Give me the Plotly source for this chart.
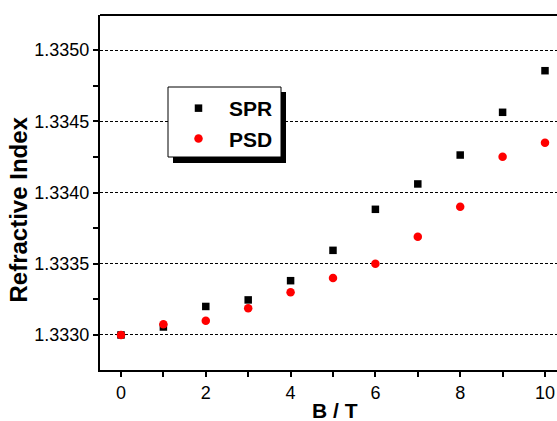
import plotly.graph_objects as go

B = [0, 1, 2, 3, 4, 5, 6, 7, 8, 9, 10]
spr = [1.33300, 1.333056, 1.33320, 1.333246, 1.333381, 1.333594, 1.333882, 1.334060, 1.334263, 1.334563, 1.334855]
psd = [1.33300, 1.333075, 1.33310, 1.333187, 1.333300, 1.333400, 1.333500, 1.333690, 1.333900, 1.334251, 1.334349]
y_ticks = [1.3330, 1.3335, 1.3340, 1.3345, 1.3350]
y_ticktext = ["1.3330", "1.3335", "1.3340", "1.3345", "1.3350"]
x_ticks = [0, 2, 4, 6, 8, 10]

font = "Liberation Sans, Arial, sans-serif"

fig = go.Figure()
fig.add_trace(go.Scatter(x=B, y=spr, mode="markers", name="SPR", legendgroup="a",
                         marker=dict(symbol="square", size=7.5, color="black")))
fig.add_trace(go.Scatter(x=B, y=psd, mode="markers", name="PSD", legendgroup="b",
                         marker=dict(symbol="circle", size=8.5, color="#ff0000")))

W, H = 557, 421
L, R, T, Bm = 100, 0, 15, 51
pw, ph = W - L - R, H - T - Bm

def px2paper(x, y):
    return (x - L) / pw, (H - Bm - y) / ph

# legend shadow
sx0, sy0 = px2paper(173, 163)
sx1, sy1 = px2paper(286, 92)
fig.add_shape(type="rect", xref="paper", yref="paper", x0=sx0, y0=sy0, x1=sx1, y1=sy1,
              fillcolor="black", line=dict(width=0), layer="above")
# legend box
bx0, by0 = px2paper(168, 157)
bx1, by1 = px2paper(281, 87)
fig.add_shape(type="rect", xref="paper", yref="paper", x0=bx0, y0=by0, x1=bx1, y1=by1,
              fillcolor="white", line=dict(width=1, color="black"), layer="above")
# top border
fig.add_shape(type="line", xref="paper", yref="paper", x0=0, x1=1, y0=1, y1=1,
              line=dict(color="black", width=2))

# axis titles
ytx, yty = px2paper(18, 209.5)
fig.add_annotation(text="Refractive Index", xref="paper", yref="paper", x=ytx, y=yty,
                   xanchor="center", yanchor="middle", textangle=-90, showarrow=False,
                   font=dict(size=24, weight="bold", family=font, color="black"))
xtx, xty = px2paper(334.5, 410)
fig.add_annotation(text="B / T", xref="paper", yref="paper", x=xtx, y=xty,
                   xanchor="center", yanchor="middle", showarrow=False,
                   font=dict(size=21, weight="bold", family=font, color="black"))

lx, ly = px2paper(168, 88)
fig.update_layout(
    width=W, height=H,
    margin=dict(l=L, r=R, t=T, b=Bm),
    paper_bgcolor="white", plot_bgcolor="white",
    font=dict(family=font, color="black", size=18),
    showlegend=True,
    legend=dict(x=lx, y=ly, xanchor="left", yanchor="top",
                bgcolor="rgba(0,0,0,0)", borderwidth=0,
                font=dict(size=21, family=font, weight="bold"),
                itemwidth=51, tracegroupgap=0),
    xaxis=dict(range=[-0.495, 10.283], tickvals=x_ticks,
               ticks="outside", ticklen=5, tickwidth=1.5, tickcolor="black",
               showline=True, linecolor="black", linewidth=2, showgrid=False, zeroline=False,
               minor=dict(tickvals=[1, 3, 5, 7, 9], ticks="outside", ticklen=5, tickcolor="black", tickwidth=1.5),
               tickfont=dict(size=18)),
    yaxis=dict(range=[1.332754, 1.335246], tickvals=y_ticks, ticktext=y_ticktext,
               ticks="outside", ticklen=5, tickwidth=1.5, tickcolor="black",
               showline=True, linecolor="black", linewidth=2,
               showgrid=True, gridcolor="black", gridwidth=1, griddash="3px,2px", zeroline=False,
               minor=dict(tickvals=[1.33275, 1.33325, 1.33375, 1.33425, 1.33475, 1.33525], ticks="outside", ticklen=5, tickcolor="black", tickwidth=1.5, showgrid=False),
               tickfont=dict(size=18)),
)

fig.write_html("out.html", config={"displayModeBar": False},
               post_script="document.body.style.margin='0';document.body.style.overflow='hidden';")
